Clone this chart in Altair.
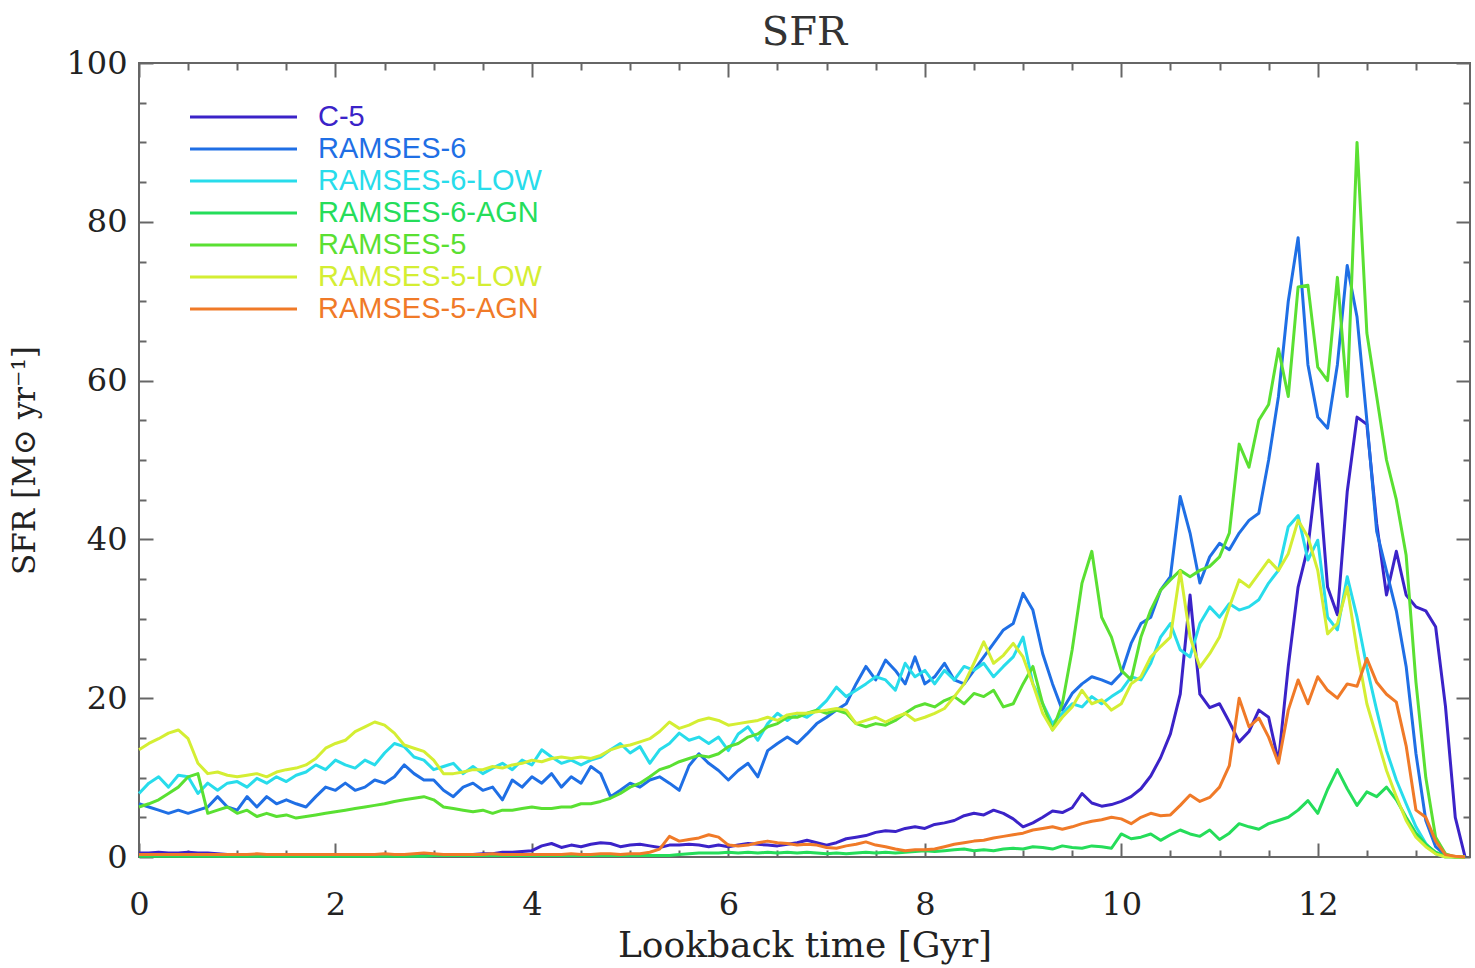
import altair as alt
import pandas as pd

# ---------------- data (0.1 Gyr grid 0.0 .. 13.5) ----------------
SERIES = ["C-5", "RAMSES-6", "RAMSES-6-LOW", "RAMSES-6-AGN",
          "RAMSES-5", "RAMSES-5-LOW", "RAMSES-5-AGN"]
COLORS = ["#3b23c8", "#1f6fe5", "#28dceb", "#25dd5a",
          "#5ae032", "#d4ee33", "#f07a28"]

TIME = [round(i * 0.1, 1) for i in range(136)]

C5 = [
    0.5, 0.5, 0.6, 0.5, 0.5, 0.6, 0.5, 0.5, 0.4,
    0.3, 0.3, 0.2, 0.3, 0.3, 0.3, 0.2, 0.3, 0.3, 0.3,
    0.3, 0.2, 0.3, 0.3, 0.3, 0.3, 0.2, 0.3, 0.3, 0.3,
    0.3, 0.3, 0.2, 0.3, 0.3, 0.3, 0.4, 0.4,
    0.6, 0.6, 0.7, 0.8, 1.4, 1.7, 1.2, 1.5, 1.3, 1.6,
    1.8, 1.7, 1.3, 1.5, 1.6, 1.4, 1.2, 1.5, 1.5, 1.6,
    1.5, 1.3,
    1.5, 1.3, 1.5, 1.7, 1.6, 1.5, 1.4, 1.6, 1.8, 2.1,
    1.8, 1.5, 1.8, 2.3, 2.5, 2.7, 3.1, 3.3, 3.2, 3.6,
    3.8, 3.6, 4.1, 4.3, 4.6, 5.2, 5.5, 5.3, 5.9, 5.5,
    4.8, 3.8, 4.3, 5.0, 5.8,
    5.6, 6.2, 8.0, 6.8, 6.4, 6.6, 7.0, 7.6, 8.6, 10.2,
    12.5, 15.5, 20.5, 33.0, 20.5, 18.8, 19.3, 17.0, 14.5, 15.8,
    18.5, 17.6, 12.0, 24.0, 34.0, 39.0, 49.5, 34.0, 30.5, 46.0,
    55.4, 54.5, 42.0, 33.0, 38.5, 33.0, 31.5, 31.0, 29.0, 19.0,
    5.0, 0.0,
]

RAMSES6 = [
    6.7, 6.3, 5.9, 5.5, 5.9, 5.5, 5.9, 6.3, 7.6, 6.3,
    5.9, 7.6, 6.3, 7.6, 6.7, 7.2, 6.7, 6.3, 7.6, 8.8,
    8.4, 9.3, 8.4, 8.8, 9.7, 9.3, 10.1, 11.6, 10.5, 9.7,
    9.7, 8.4, 7.6, 8.8, 9.3, 8.4, 8.8, 7.2, 9.7, 8.8,
    10.1, 9.3, 10.5, 8.8, 10.1, 9.3, 11.4, 10.5, 7.6, 8.4,
    9.3, 8.8, 9.7, 10.1, 9.3, 8.4, 11.5, 13.0,
    11.8, 10.9, 9.7, 10.9, 11.8, 10.1, 13.4, 14.3, 15.1, 14.3,
    15.5, 16.8, 17.6, 18.5, 19.3, 21.8, 24.0, 22.3, 24.8, 23.5,
    21.8, 25.2, 21.8, 22.7, 24.4, 22.3, 21.8, 23.5, 25.2, 26.9,
    28.6, 29.4, 33.2, 31.1, 25.6, 21.8, 18.5, 20.6, 21.8, 22.7,
    22.3, 21.8, 23.1, 26.9, 29.4, 30.2, 33.6, 35.3, 45.4, 40.8,
    34.5, 37.8, 39.5, 38.7, 40.8, 42.4, 43.3, 50.0, 58.0, 70.0,
    78.0, 62.0, 55.4, 54.0, 62.0, 74.5, 68.0, 55.0, 41.0, 36.0,
    31.0, 24.0, 13.0, 4.6, 1.3, 0.2, 0.0, 0.0,
]

RAMSES6_LOW = [
    8.0, 9.3, 10.1, 8.8, 10.3, 10.1, 8.0, 9.3, 8.4, 9.3,
    9.5, 8.8, 9.9, 9.3, 10.1, 9.5, 10.3, 10.7, 11.6, 11.0,
    12.2, 11.6, 11.2, 12.2, 11.6, 13.1, 14.3, 13.9, 12.6, 12.2,
    11.0, 11.4, 11.8, 10.5, 11.4, 10.5, 11.2, 11.8, 11.0, 12.2,
    11.6, 13.5, 12.6, 11.8, 12.2, 11.6, 12.2, 12.6, 13.5, 14.3,
    13.1, 13.9, 11.8, 13.5, 14.3, 15.6, 14.7, 15.1,
    14.3, 15.1, 13.4, 15.5, 16.4, 14.7, 16.8, 18.1, 17.2, 18.1,
    17.6, 18.5, 19.7, 21.4, 20.2, 21.0, 21.8, 22.7, 22.3, 21.0,
    24.4, 22.7, 23.5, 21.8, 23.5, 22.3, 24.0, 23.5, 24.4, 22.7,
    24.0, 25.2, 27.7, 21.8, 19.3, 16.8, 18.1, 19.3, 18.9, 20.2,
    19.3, 20.2, 21.0, 22.7, 22.3, 24.4, 27.7, 29.4, 26.1, 25.2,
    29.4, 31.5, 30.2, 31.9, 31.1, 31.5, 32.4, 34.5, 36.1, 41.6,
    43.0, 37.4, 39.9, 30.2, 28.6, 35.3, 30.2, 23.9, 18.5, 13.4,
    9.7, 6.7, 3.8, 1.7, 0.4, 0.0, 0.0, 0.0,
]

RAMSES6_AGN = [
    0.1, 0.1, 0.1, 0.1, 0.1, 0.1, 0.1, 0.1, 0.1, 0.1,
    0.1, 0.1, 0.1, 0.1, 0.1, 0.1, 0.1, 0.1, 0.1, 0.1,
    0.1, 0.1, 0.1, 0.1, 0.1, 0.1, 0.1, 0.1, 0.1, 0.1,
    0.2, 0.2, 0.2, 0.2, 0.2, 0.2, 0.2, 0.2, 0.2, 0.2,
    0.2, 0.2, 0.2, 0.2, 0.2, 0.2, 0.2, 0.2, 0.2, 0.2,
    0.2, 0.2, 0.2, 0.2, 0.2,
    0.3, 0.4, 0.5, 0.5, 0.5, 0.6, 0.5, 0.6, 0.5, 0.6,
    0.5, 0.6, 0.5, 0.6, 0.5, 0.4, 0.5, 0.4, 0.5, 0.6,
    0.5, 0.6, 0.5, 0.6, 0.7, 0.8, 0.7, 0.8, 0.9, 1.0,
    0.8, 0.9, 0.8, 1.0, 1.1, 1.0, 1.3, 1.2, 1.0, 1.4,
    1.2, 1.1, 1.4, 1.3, 1.1, 2.9, 2.3, 2.5, 2.9, 2.1,
    2.8, 3.4, 2.9, 2.6, 3.4, 2.2, 3.0, 4.2, 3.8, 3.5,
    4.2, 4.6, 5.0, 5.9, 7.1, 5.5, 8.5, 11.0, 8.6, 6.5,
    8.2, 7.6, 8.8, 7.2, 5.0, 3.0, 1.6, 0.6, 0.1, 0.0,
    0.0,
]

RAMSES5 = [
    6.3, 6.7, 7.2, 8.0, 8.8, 10.1, 10.5, 5.5, 5.9, 6.3,
    5.5, 5.9, 5.1, 5.5, 5.1, 5.3, 4.9, 5.1, 5.3, 5.5,
    5.7, 5.9, 6.1, 6.3, 6.5, 6.7, 7.0, 7.2, 7.4, 7.6,
    7.2, 6.3, 6.1, 5.9, 5.7, 5.9, 5.5, 5.9, 5.9, 6.1,
    6.3, 6.1, 6.1, 6.3, 6.3, 6.7, 6.7, 7.0, 7.4, 8.0,
    8.8, 9.3, 10.1, 11.0, 11.4, 12.0, 12.4, 12.8, 12.6,
    13.0, 13.9, 14.3, 15.1, 15.5, 16.4, 16.8, 17.6, 17.6, 18.1,
    18.5, 18.1, 18.5, 18.1, 16.8, 16.4, 16.8, 16.6, 17.2, 18.1,
    18.9, 19.3, 18.9, 19.7, 20.2, 19.3, 20.6, 20.2, 21.0, 18.9,
    19.3, 21.8, 24.0, 19.3, 16.0, 19.3, 26.1, 34.5,
    38.5, 30.2, 27.7, 23.5, 22.3, 27.7, 31.1, 33.6, 34.9, 36.1,
    35.3, 36.1, 36.6, 37.8, 40.8, 52.0, 49.1, 55.0, 57.0, 64.0,
    58.0, 71.8, 72.0, 61.7, 60.0, 73.0, 58.0, 90.0, 66.0, 58.0,
    50.0, 45.0, 38.0, 22.0, 10.0, 2.5, 0.4, 0.0, 0.0,
]

RAMSES5_LOW = [
    13.5, 14.3, 14.9, 15.6, 16.0, 14.9, 11.8, 10.5, 10.7, 10.3,
    10.1, 10.3, 10.5, 10.1, 10.7, 11.0, 11.2, 11.6, 12.4, 13.7,
    14.3, 14.7, 15.8, 16.4, 17.0, 16.6, 15.6, 14.1, 13.7, 13.3,
    12.2, 10.5, 10.5, 10.7, 11.0, 11.0, 11.4, 11.2, 11.6, 11.8,
    12.2, 12.0, 12.4, 12.6, 12.4, 12.6, 12.4, 12.8, 13.5, 13.9,
    14.1, 14.5, 14.9, 15.8, 17.0, 16.2, 16.6, 17.2, 17.5,
    17.2, 16.6, 16.8, 17.0, 17.2, 17.6, 17.2, 17.9, 18.1, 18.1,
    18.3, 18.5, 18.7, 18.5, 16.8, 17.2, 17.6, 17.0, 17.6, 18.1,
    17.2, 17.6, 18.1, 18.7, 20.2, 21.8, 24.4, 27.1, 24.4, 25.4,
    26.9, 25.2, 21.8, 18.1,
    16.0, 17.6, 18.9, 21.0, 19.3, 19.8, 18.5, 19.3, 21.8, 22.7,
    25.2, 26.5, 27.7, 36.0, 27.7, 23.9, 25.6, 27.7, 31.5, 34.9,
    34.0, 35.7, 37.4, 36.1, 38.2, 42.4, 40.3, 36.1, 28.1, 29.4,
    34.0, 26.1, 19.3, 15.1, 10.9, 7.6, 4.6, 2.5, 1.3, 0.4,
    0.0, 0.0, 0.0,
]

RAMSES5_AGN = [
    0.3, 0.3, 0.3, 0.3, 0.3, 0.3, 0.3, 0.3, 0.3, 0.3,
    0.3, 0.3, 0.4, 0.3, 0.3, 0.3, 0.3, 0.3, 0.3, 0.3,
    0.3, 0.3, 0.3, 0.3, 0.3, 0.4, 0.3, 0.3, 0.4, 0.5,
    0.4, 0.3, 0.3, 0.3, 0.3, 0.3, 0.4, 0.3, 0.3, 0.3,
    0.3, 0.3, 0.3, 0.3, 0.4, 0.3, 0.3, 0.4, 0.4, 0.3,
    0.4, 0.4,
    0.6, 1.0, 2.6, 2.0, 2.2, 2.4, 2.8, 2.5, 1.5, 1.4,
    1.5, 1.8, 2.0, 1.8, 1.7, 1.5, 1.6, 1.5, 1.2, 1.1,
    1.4, 1.6, 1.9, 1.5, 1.3, 1.0, 0.8, 0.9, 0.9, 1.0,
    1.3, 1.6, 1.8, 2.0, 2.1, 2.4, 2.6, 2.8, 3.0, 3.4,
    3.6, 3.8, 3.5, 3.8, 4.2, 4.5, 4.7, 5.0, 4.8, 4.2,
    5.0, 5.5, 5.2, 5.3, 6.5, 7.8, 7.0, 7.5, 8.8, 11.5,
    20.0, 16.4, 17.5, 15.1, 11.8, 18.5, 22.3, 19.3, 22.7, 21.0,
    20.0, 21.8, 21.5, 25.0, 22.0, 20.5, 19.5, 14.0, 5.9, 5.0,
    2.0, 0.3, 0.1, 0.0,
]

VALUES = [C5, RAMSES6, RAMSES6_LOW, RAMSES6_AGN, RAMSES5, RAMSES5_LOW, RAMSES5_AGN]

X_TICKS = [i * 0.5 for i in range(27)]          # 0 .. 13.0
Y_TICKS = [i * 5 for i in range(21)]            # 0 .. 100

# ---------------- table ----------------
rows = []
for name, vals in zip(SERIES, VALUES):
    assert len(vals) == len(TIME), (name, len(vals))
    for t, v in zip(TIME, vals):
        rows.append({"t": t, "sfr": v, "series": name})
df = pd.DataFrame(rows)
leg_df = pd.DataFrame({"series": SERIES, "row": list(range(len(SERIES)))})

# ---------------- scales / styles ----------------
SERIF = "DejaVu Serif"
color_scale = alt.Scale(domain=SERIES, range=COLORS)
xscale = alt.Scale(domain=[0, 13.55], nice=False, zero=False)
yscale = alt.Scale(domain=[0, 100], nice=False)
X_TICK_SIZE = {"expr": "datum.value % 2 === 0 ? -14 : -7"}
Y_TICK_SIZE = {"expr": "datum.value % 20 === 0 ? -14 : -7"}

lines = alt.Chart(df).mark_line(strokeWidth=3, strokeJoin="round").encode(
    x=alt.X("t:Q", scale=xscale,
            axis=alt.Axis(orient="bottom", values=X_TICKS, tickSize=X_TICK_SIZE,
                          labelExpr="datum.value % 2 === 0 ? format(datum.value, 'd') : ''",
                          labelPadding=46, labelOverlap=False, labelFlush=False,
                          title="Lookback time [Gyr]", titleFontSize=36,
                          titlePadding=1)),
    y=alt.Y("sfr:Q", scale=yscale,
            axis=alt.Axis(orient="left", values=Y_TICKS, tickSize=Y_TICK_SIZE,
                          labelExpr="datum.value % 20 === 0 ? format(datum.value, 'd') : ''",
                          labelPadding=26, labelOverlap=False, labelFlush=False,
                          title="SFR [M\u2299 yr\u207b\u00b9]", titleFontSize=31,
                          titlePadding=24)),
    color=alt.Color("series:N", scale=color_scale, legend=None),
)

mirror = alt.Chart(df).mark_line(opacity=0).encode(
    x=alt.X("t:Q", scale=xscale,
            axis=alt.Axis(orient="top", values=X_TICKS, tickSize=X_TICK_SIZE,
                          labels=False, title="", titlePadding=0, minExtent=0)),
    y=alt.Y("sfr:Q", scale=yscale,
            axis=alt.Axis(orient="right", values=Y_TICKS, tickSize=Y_TICK_SIZE,
                          labels=False, title="", titlePadding=0, minExtent=0)),
    detail="series:N",
)

leg_y = alt.Y("row:Q", scale=alt.Scale(domain=[0, 6], range=[54, 246]), axis=None)
leg_rules = alt.Chart(leg_df).mark_rule(strokeWidth=3).encode(
    x=alt.value(51), x2=alt.value(158), y=leg_y,
    color=alt.Color("series:N", scale=color_scale, legend=None),
)
leg_text = alt.Chart(leg_df).mark_text(
    align="left", baseline="middle", font="Liberation Sans", fontSize=29
).encode(
    x=alt.value(179), y=leg_y, text="series:N",
    color=alt.Color("series:N", scale=color_scale, legend=None),
)

chart = alt.layer(lines, mirror, leg_rules, leg_text).resolve_scale(
    y="independent"
).resolve_axis(
    x="independent", y="independent"
).properties(
    width=1331, height=794,
    background="white",
    autosize=alt.AutoSizeParams(type="none"),
    padding={"left": 139, "top": 63, "right": 5, "bottom": 111},
    title=alt.TitleParams("SFR", font=SERIF, fontSize=40, fontWeight="normal",
                          color="#333333", anchor="middle", baseline="alphabetic",
                          offset=-38),
).configure_view(
    stroke="#666666", strokeWidth=2
).configure_axis(
    domain=False, grid=False, tickColor="#666666", tickWidth=2,
    labelFont=SERIF, labelFontSize=32, labelColor="#222222",
    titleFont=SERIF, titleFontWeight="normal", titleColor="#222222",
)

chart.save("out.html", embed_options={"renderer": "svg", "actions": False})
